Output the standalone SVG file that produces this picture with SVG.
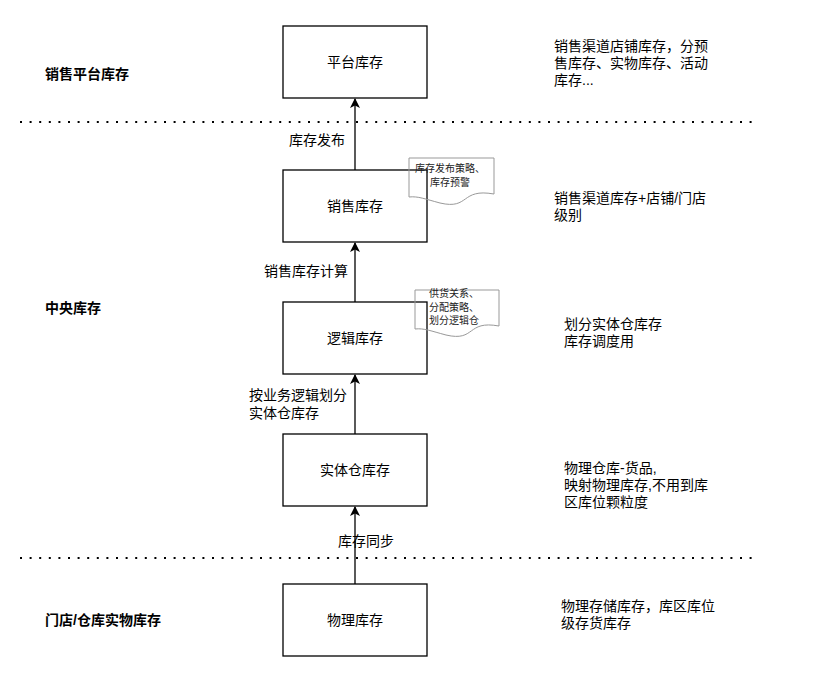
<svg xmlns="http://www.w3.org/2000/svg" width="832" height="673" viewBox="0 0 832 673">
<defs>
<marker id="arr" markerWidth="10" markerHeight="10" viewBox="0 0 10 10" refX="9" refY="5" orient="auto" markerUnits="userSpaceOnUse">
<path d="M0,0 L10,5 L0,10 L2.5,5 Z" fill="#000"/>
</marker>
<style>
.box{fill:#fff;stroke:#000;stroke-width:1.3}
.t{font-family:"Liberation Sans","Noto Sans CJK SC",sans-serif;font-size:14px;fill:#000}
.c{text-anchor:middle}
.b{font-weight:bold}
.n{font-family:"Liberation Sans","Noto Sans CJK SC",sans-serif;font-size:10px;fill:#222}
.doc{fill:none;stroke:#999;stroke-width:1}
.ln{stroke:#000;stroke-width:1.3;fill:none}
.dot{stroke:#000;stroke-width:2;stroke-dasharray:2 7.6;fill:none}
</style>
</defs>
<rect width="832" height="673" fill="#fff"/>

<g id="separators">
<line class="dot" x1="20" y1="122" x2="752" y2="122"/>
<line class="dot" x1="20" y1="558" x2="752" y2="558"/>
</g>

<g id="layer-labels">
<text class="t b" x="45" y="79">销售平台库存</text>
<text class="t b" x="45" y="313">中央库存</text>
<text class="t b" x="45" y="625">门店/仓库实物库存</text>
</g>

<g id="node-platform">
<rect class="box" x="283" y="26" width="144" height="72"/>
<text class="t c" x="355" y="67">平台库存</text>
</g>
<g id="node-sales">
<rect class="box" x="283" y="170" width="144" height="72"/>
<text class="t c" x="355" y="211">销售库存</text>
</g>
<g id="node-logic">
<rect class="box" x="283" y="302" width="144" height="72"/>
<text class="t c" x="355" y="343">逻辑库存</text>
</g>
<g id="node-entity">
<rect class="box" x="283" y="434" width="144" height="72"/>
<text class="t c" x="355" y="475">实体仓库存</text>
</g>
<g id="node-physical">
<rect class="box" x="283" y="584" width="144" height="72"/>
<text class="t c" x="355" y="625">物理库存</text>
</g>

<g id="connectors">
<line class="ln" x1="355" y1="584" x2="355" y2="507" marker-end="url(#arr)"/>
<line class="ln" x1="355" y1="434" x2="355" y2="375" marker-end="url(#arr)"/>
<line class="ln" x1="355" y1="302" x2="355" y2="243" marker-end="url(#arr)"/>
<line class="ln" x1="355" y1="170" x2="355" y2="99" marker-end="url(#arr)"/>
<text class="t" x="338" y="546">库存同步</text>
<text class="t" x="249" y="400">按业务逻辑划分</text>
<text class="t" x="249" y="418">实体仓库存</text>
<text class="t" x="264" y="276">销售库存计算</text>
<text class="t" x="289" y="145">库存发布</text>
</g>

<g id="note-sales">
<path class="doc" d="M409,158 H494 V194 C460,188 470,210 440,203 C425,199 418,196 409,197 Z"/>
<text class="n c" x="450" y="172">库存发布策略、</text>
<text class="n c" x="450" y="186">库存预警</text>
</g>
<g id="note-logic">
<path class="doc" d="M415,290 H499 V326 C466,320 476,342 446,335 C431,331 424,328 415,329 Z"/>
<text class="n" x="429" y="297">供货关系、</text>
<text class="n" x="429" y="311">分配策略、</text>
<text class="n" x="429" y="324">划分逻辑仓</text>
</g>

<g id="desc-platform">
<text class="t" x="554" y="51">销售渠道店铺库存，分预</text>
<text class="t" x="554" y="68">售库存、实物库存、活动</text>
<text class="t" x="554" y="85">库存...</text>
</g>
<g id="desc-sales">
<text class="t" x="554" y="203">销售渠道库存+店铺/门店</text>
<text class="t" x="554" y="220">级别</text>
</g>
<g id="desc-logic">
<text class="t" x="564" y="329">划分实体仓库存</text>
<text class="t" x="564" y="346">库存调度用</text>
</g>
<g id="desc-entity">
<text class="t" x="564" y="473">物理仓库-货品,</text>
<text class="t" x="564" y="490">映射物理库存,不用到库</text>
<text class="t" x="564" y="507">区库位颗粒度</text>
</g>
<g id="desc-physical">
<text class="t" x="561" y="611">物理存储库存，库区库位</text>
<text class="t" x="561" y="628">级存货库存</text>
</g>
</svg>
